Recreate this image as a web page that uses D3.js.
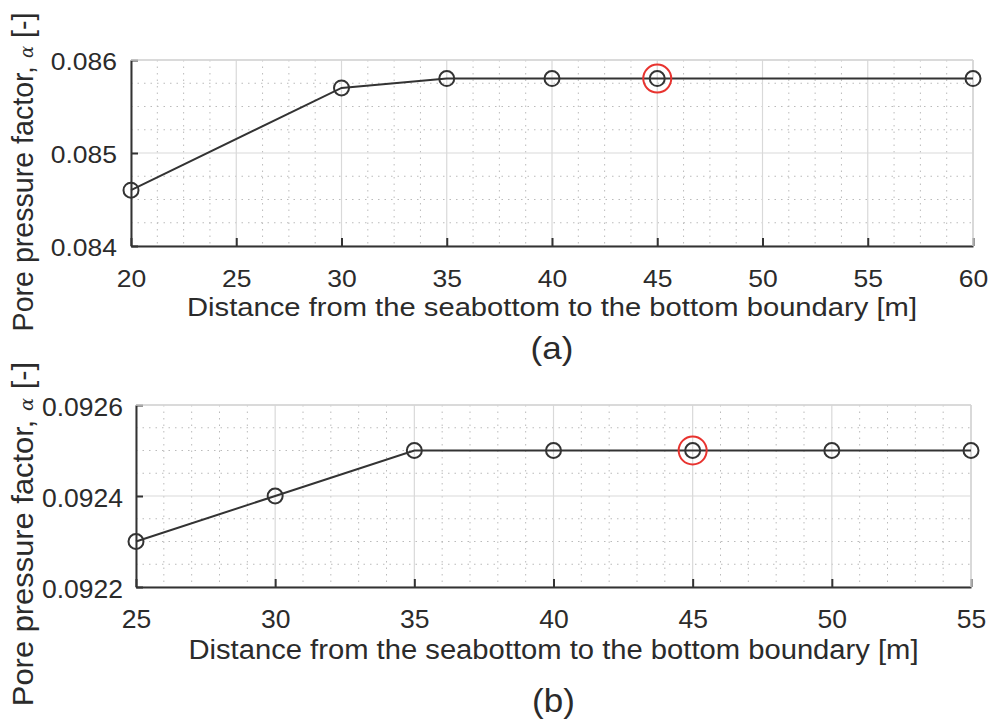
<!DOCTYPE html>
<html>
<head>
<meta charset="utf-8">
<script src="https://cdn.jsdelivr.net/npm/d3@7"></script>
<style>
  html, body { margin: 0; padding: 0; background: #fff; }
  svg { display: block; }
  text { font-family: "Liberation Sans", Arial, Helvetica, sans-serif; fill: #2b2b2b; }
</style>
</head>
<body>
<svg id="fig" width="991" height="724"></svg>
<script>
// Panel (a): domain height 20-60 m
const distA = [20, 30, 35, 40, 45, 60];
const alphaA = [0.0846, 0.0857, 0.0858, 0.0858, 0.0858, 0.0858];
const xTicksA = [20, 25, 30, 35, 40, 45, 50, 55, 60];
const yTicksA = [0.084, 0.085, 0.086];

// Panel (b): domain height 25-55 m
const distB = [25, 30, 35, 40, 45, 50, 55];
const alphaB = [0.0923, 0.0924, 0.0925, 0.0925, 0.0925, 0.0925, 0.0925];
const xTicksB = [25, 30, 35, 40, 45, 50, 55];
const yTicksB = [0.0922, 0.0924, 0.0926];

// Chosen model depth, highlighted in red
const selectedDist = 45;

const xTitle = "Distance from the seabottom to the bottom boundary [m]";
const FONT = "Liberation Sans, Arial, sans-serif";
const TICK_FS = 26.5, LABEL_FS = 29.2;

const svg = d3.select("#fig");

function panel(cfg) {
  const { left, right, top, bottom, xs, ys, xTicks, yTicks, xMinor, yMinor,
          yFmt, label, labelY, titleY, tickY, yLabelCenter, yLabelStretch, sy, ypad } = cfg;
  const x = d3.scaleLinear().domain(d3.extent(xTicks)).range([left, right]);
  const y = d3.scaleLinear().domain(d3.extent(yTicks)).range([bottom, top]);
  const g = svg.append("g");

  // minor grid (dotted)
  const [x0, x1] = x.domain(), [y0, y1] = y.domain();
  const xm = d3.range(Math.round((x1 - x0) / xMinor) + 1).map(i => x0 + i * xMinor)
    .filter(v => !xTicks.some(t => Math.abs(t - v) < 1e-9));
  const ym = d3.range(Math.round((y1 - y0) / yMinor) + 1).map(i => y0 + i * yMinor)
    .filter(v => !yTicks.some(t => Math.abs(t - v) < 1e-12));
  g.selectAll(".mx").data(xm).join("line")
    .attr("x1", d => x(d)).attr("x2", d => x(d)).attr("y1", top).attr("y2", bottom)
    .attr("stroke", "#bbbbbb").attr("stroke-width", 1).attr("stroke-dasharray", "1.5,5");
  g.selectAll(".my").data(ym).join("line")
    .attr("y1", d => y(d)).attr("y2", d => y(d)).attr("x1", left).attr("x2", right)
    .attr("stroke", "#bbbbbb").attr("stroke-width", 1).attr("stroke-dasharray", "1.5,5");

  // major grid (solid, light)
  g.selectAll(".gx").data(xTicks).join("line")
    .attr("x1", d => x(d)).attr("x2", d => x(d)).attr("y1", top).attr("y2", bottom)
    .attr("stroke", "#d9d9d9").attr("stroke-width", 1.2);
  g.selectAll(".gy").data(yTicks).join("line")
    .attr("y1", d => y(d)).attr("y2", d => y(d)).attr("x1", left).attr("x2", right)
    .attr("stroke", "#d9d9d9").attr("stroke-width", 1.2);

  // bottom axis with inward ticks
  const xAxis = d3.axisBottom(x).tickValues(xTicks).tickSizeInner(-8).tickSizeOuter(0)
    .tickFormat(d3.format("d"));
  const ax = g.append("g").attr("transform", `translate(0,${bottom})`).call(xAxis);
  ax.select(".domain").attr("stroke", "#333").attr("stroke-width", 2);
  ax.selectAll(".tick line").attr("stroke", "#333").attr("stroke-width", 2);
  ax.selectAll(".tick text").attr("font-size", TICK_FS).attr("fill", "#2b2b2b")
    .attr("font-family", FONT).attr("y", 0).attr("dy", null)
    .attr("transform", `translate(0,${tickY - bottom}) scale(1,${sy})`);

  // left axis with inward ticks
  const yAxis = d3.axisLeft(y).tickValues(yTicks).tickSizeInner(-7).tickSizeOuter(0)
    .tickFormat(yFmt);
  const ay = g.append("g").attr("transform", `translate(${left},0)`).call(yAxis);
  ay.select(".domain").attr("stroke", "#333").attr("stroke-width", 2);
  ay.selectAll(".tick line").attr("stroke", "#333").attr("stroke-width", 2);
  ay.selectAll(".tick text").attr("font-size", TICK_FS).attr("fill", "#2b2b2b")
    .attr("font-family", FONT).attr("x", -ypad).attr("dy", "0.4em")
    .attr("transform", `scale(1,${sy})`);

  // light top/right box edges
  g.append("line").attr("x1", left).attr("x2", right).attr("y1", top).attr("y2", top)
    .attr("stroke", "#d4d4d4").attr("stroke-width", 1.5);
  g.append("line").attr("x1", right).attr("x2", right).attr("y1", top).attr("y2", bottom)
    .attr("stroke", "#d4d4d4").attr("stroke-width", 1.5);

  // data line and markers
  const pts = xs.map((d, i) => [d, ys[i]]);
  g.append("path").datum(pts)
    .attr("d", d3.line().x(d => x(d[0])).y(d => y(d[1])))
    .attr("fill", "none").attr("stroke", "#333").attr("stroke-width", 2);
  g.selectAll(".pt").data(pts).join("circle")
    .attr("cx", d => x(d[0])).attr("cy", d => y(d[1])).attr("r", 7.5)
    .attr("fill", "none").attr("stroke", "#333").attr("stroke-width", 2);

  // highlighted depth
  const sel = pts.find(d => d[0] === selectedDist);
  g.append("circle").attr("cx", x(sel[0])).attr("cy", y(sel[1])).attr("r", 14)
    .attr("fill", "none").attr("stroke", "#e8332f").attr("stroke-width", 2);

  // x-axis title
  g.append("text")
    .attr("transform", `translate(${(left + right) / 2},${titleY}) scale(1,${sy})`)
    .attr("text-anchor", "middle").attr("font-size", LABEL_FS).text(xTitle);

  // y-axis title (rotated, reads bottom to top)
  const yl = g.append("text")
    .attr("transform", `translate(33,${yLabelCenter}) rotate(-90) scale(${yLabelStretch},1)`)
    .attr("text-anchor", "middle").attr("font-size", 28.6);
  yl.append("tspan").text("Pore pressure factor, ");
  yl.append("tspan").attr("font-family", "DejaVu Serif, serif").attr("font-style", "italic")
    .attr("font-size", 18).text("α");
  yl.append("tspan").text(" [-]");

  // panel label
  g.append("text")
    .attr("transform", `translate(${(left + right) / 2},${labelY}) scale(1,${sy})`)
    .attr("text-anchor", "middle").attr("font-size", 35).text(label);
}

panel({
  left: 131, right: 973, top: 60, bottom: 246,
  xs: distA, ys: alphaA, xTicks: xTicksA, yTicks: yTicksA,
  xMinor: 1.25, yMinor: 0.00025, yFmt: d3.format(".3f"), ypad: 14,
  tickY: 287, titleY: 316, label: "(a)", labelY: 359,
  yLabelCenter: 172, yLabelStretch: 1.0, sy: 0.9
});

panel({
  left: 136, right: 971, top: 405, bottom: 587,
  xs: distB, ys: alphaB, xTicks: xTicksB, yTicks: yTicksB,
  xMinor: 1, yMinor: 0.00005, yFmt: d3.format(".4f"), ypad: 13,
  tickY: 628, titleY: 659, label: "(b)", labelY: 712,
  yLabelCenter: 534, yLabelStretch: 1.08, sy: 0.95
});
</script>
</body>
</html>
